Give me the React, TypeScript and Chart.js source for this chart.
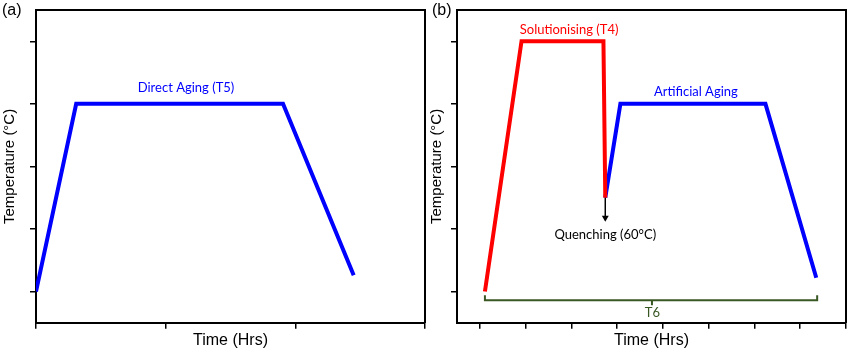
import React, { useEffect, useRef } from "react";
import { Chart, registerables } from "chart.js";
Chart.register(...registerables);

const BLUE = "#0000ff";
const RED = "#ff0000";
const GREEN = "#385723";
const AXIS = "#000000";

// ---------- Panel (a): Direct Aging (T5) ----------
const aTimes = [0, 0.31, 1.905, 2.45];
const aTemps = [0, 3, 3, 0.26];
const aXTicks = [0, 1, 2, 3];
const aYTicks = [0, 1, 2, 3, 4];

// ---------- Panel (b): T6 = Solutionising + Quenching + Artificial Aging ----------
const solTimes = [0.11, 0.91, 2.7, 2.74];
const solTemps = [0, 4, 4, 1.5];
const ageTimes = [2.74, 3.07, 6.24, 7.35];
const ageTemps = [1.5, 3, 3, 0.22];
const quenchTimes = [2.74, 2.74];
const quenchTemps = [1.5, 1.18];
const t6Times = [0.11, 0.11, 7.37, 7.37];
const t6Temps = [-0.06, -0.14, -0.14, -0.06];
const t6MidTimes = [3.76, 3.76];
const t6MidTemps = [-0.14, -0.22];
const bXTicks = [0, 1, 2, 3, 4, 5, 6, 7, 8];
const bYTicks = [0, 1, 2, 3, 4];

// annotations (in data units)
const aNotes = [{ text: "Direct Aging (T5)", x: 1.157, y: 3.26, color: BLUE }];
const bNotes = [
  { text: "Solutionising (T4)", x: 1.95, y: 4.19, color: RED },
  { text: "Artificial Aging", x: 4.72, y: 3.19, color: BLUE },
  { text: "Quenching (60°C)", x: 2.74, y: 0.91, color: "#000000" },
  { text: "T6", x: 3.77, y: -0.335, color: GREEN },
];

const zip = (xs: number[], ys: number[]) => xs.map((x, i) => ({ x, y: ys[i] }));

const ARIAL = '"Liberation Sans", Arial, sans-serif';
const NOTE_FONT = '13px Lato, "Open Sans", sans-serif';

function notesPlugin(notes: any[], panel: string, panelX: number) {
  return {
    id: "notes",
    afterDatasetsDraw(chart: any) {
      const { ctx, scales } = chart;
      const xs = scales.x;
      const ys = scales.y;
      ctx.save();
      ctx.textAlign = "center";
      ctx.textBaseline = "middle";
      ctx.font = NOTE_FONT;
      for (const n of notes) {
        ctx.fillStyle = n.color;
        ctx.fillText(n.text, xs.getPixelForValue(n.x), ys.getPixelForValue(n.y));
      }
      ctx.font = "16px " + ARIAL;
      ctx.fillStyle = "#000";
      ctx.textAlign = "left";
      ctx.fillText(panel, panelX, 11);
      ctx.restore();
    },
  };
}

function lineDs(data: any[], color: string, width: number, extra: any = {}) {
  return {
    data,
    borderColor: color,
    backgroundColor: color,
    borderWidth: width,
    showLine: true,
    pointRadius: 0,
    borderJoinStyle: "miter",
    borderCapStyle: "butt",
    tension: 0,
    ...extra,
  };
}

function buildScales(xMin: number, xMax: number, xTicks: number[], yTicks: number[], yPad: { top: number; bottom: number }) {
  const grid = {
    display: true,
    drawOnChartArea: false,
    drawTicks: true,
    tickLength: 6,
    tickWidth: 1.5,
    tickColor: AXIS,
    color: AXIS,
    lineWidth: 1.5,
  };
  const border = { display: true, color: AXIS, width: 2 };
  const noGrid = { display: false, drawTicks: false, tickLength: 0, drawOnChartArea: false };
  return {
    x: {
      type: "linear",
      min: xMin,
      max: xMax,
      afterBuildTicks: (s: any) => {
        s.ticks = xTicks.map((v) => ({ value: v }));
      },
      ticks: { display: false },
      grid,
      border,
      title: {
        display: true,
        text: "Time (Hrs)",
        color: "#000",
        font: { family: ARIAL, size: 16 },
        padding: { top: 2, bottom: 0 },
      },
    },
    y: {
      type: "linear",
      min: -0.5,
      max: 4.5,
      afterBuildTicks: (s: any) => {
        s.ticks = yTicks.map((v) => ({ value: v }));
      },
      ticks: { display: false },
      grid,
      border,
      title: {
        display: true,
        text: "Temperature (°C)",
        color: "#000",
        font: { family: ARIAL, size: 15 },
        padding: yPad,
      },
    },
    x2: {
      type: "linear",
      position: "top",
      display: true,
      ticks: { display: false },
      grid: noGrid,
      border,
    },
    y2: {
      type: "linear",
      position: "right",
      display: true,
      ticks: { display: false },
      grid: noGrid,
      border,
    },
  };
}

function Panel(props: {
  left: number;
  width: number;
  datasets: any[];
  scales: any;
  padding: any;
  plugin: any;
}) {
  const ref = useRef<HTMLCanvasElement>(null);
  useEffect(() => {
    if (!ref.current) return;
    const chart = new Chart(ref.current, {
      type: "scatter",
      data: { datasets: props.datasets },
      options: {
        responsive: false,
        animation: false,
        devicePixelRatio: 1,
        layout: { padding: props.padding },
        plugins: { legend: { display: false }, tooltip: { enabled: false }, title: { display: false } },
        scales: props.scales,
      } as any,
      plugins: [props.plugin],
    } as any);
    return () => chart.destroy();
  }, []);
  return (
    <canvas
      ref={ref}
      width={props.width}
      height={351}
      style={{ position: "absolute", left: props.left, top: 0, width: props.width, height: 351 }}
    />
  );
}

export default function App() {
  const aDatasets = [lineDs(zip(aTimes, aTemps), BLUE, 4)];
  const bDatasets = [
    lineDs(zip(t6Times, t6Temps), GREEN, 2),
    lineDs(zip(t6MidTimes, t6MidTemps), GREEN, 2),
    lineDs(zip(quenchTimes, quenchTemps), "#000", 1.5, {
      pointRadius: [0, 4],
      pointStyle: "triangle",
      rotation: 180,
      pointBackgroundColor: "#000",
      pointBorderColor: "#000",
      pointBorderWidth: 0,
    }),
    lineDs(zip(solTimes, solTemps), RED, 4),
    lineDs(zip(ageTimes, ageTemps), BLUE, 4),
  ];
  return (
    <div style={{ position: "fixed", left: 0, top: 0, width: 850, height: 351, background: "#fff" }}>
      <Panel
        left={0}
        width={428}
        datasets={aDatasets}
        scales={buildScales(0, 3, aXTicks, aYTicks, { top: 1, bottom: 11 })}
        padding={{ left: 0, right: 3, top: 10, bottom: 1 }}
        plugin={notesPlugin(aNotes, "(a)", 2)}
      />
      <Panel
        left={428}
        width={422}
        datasets={bDatasets}
        scales={buildScales(-0.5, 8, bXTicks, bYTicks, { top: 0, bottom: 5 })}
        padding={{ left: 0, right: 2, top: 10, bottom: 1 }}
        plugin={notesPlugin(bNotes, "(b)", 4)}
      />
    </div>
  );
}
